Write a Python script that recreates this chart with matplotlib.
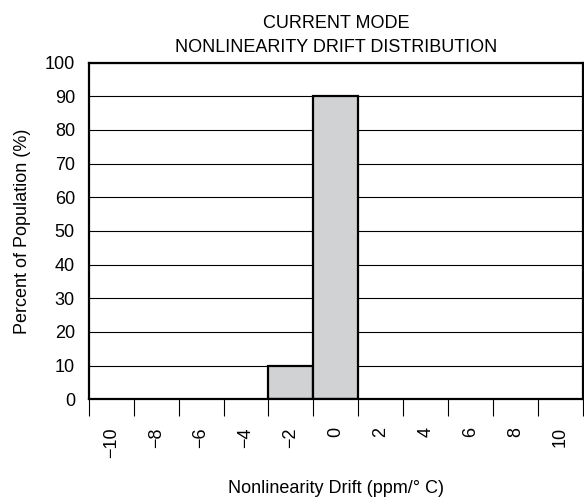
import matplotlib
matplotlib.use('Agg')
import matplotlib.pyplot as plt
import numpy as np

plt.rcParams['font.family'] = ['Liberation Sans', 'DejaVu Sans']

# bin centres (ppm/°C) and percent of population in each bin
drift_bins = [-10, -8, -6, -4, -2, 0, 2, 4, 6, 8, 10]
percent = [0, 0, 0, 0, 10, 90, 0, 0, 0, 0, 0]
bin_width = 2

fig = plt.figure(figsize=(5.84, 5.01), dpi=100)
ax = fig.add_axes([0.152, 0.203, 0.846, 0.672])

centres = np.array(drift_bins)
values = np.array(percent)
mask = values > 0
ax.bar(centres[mask], values[mask], width=bin_width, color='#d1d2d4',
       edgecolor='black', linewidth=1.6, zorder=3)

ax.set_xlim(-11, 11)
ax.set_ylim(0, 100)

ax.set_yticks(np.arange(0, 101, 10))
ax.yaxis.grid(True, color='black', linewidth=0.8, zorder=1)
ax.tick_params(axis='y', length=0, pad=10, labelsize=13)

ax.set_xticks(drift_bins)
ax.set_xticklabels([str(b).replace('-', '\u2212') for b in drift_bins], rotation=90)
ax.set_xticks(np.arange(-11, 12, 2), minor=True)
ax.tick_params(axis='x', which='major', length=0, pad=20, labelsize=13)
ax.tick_params(axis='x', which='minor', length=12.5, width=0.8, direction='out')

for s in ax.spines.values():
    s.set_linewidth(1.6)
    s.set_zorder(4)

ax.set_ylabel('Percent of Population (%)', fontsize=13, labelpad=10)
ax.set_xlabel('Nonlinearity Drift (ppm/\u00b0 C)', fontsize=13, labelpad=16)
ax.set_title('CURRENT MODE\nNONLINEARITY DRIFT DISTRIBUTION', fontsize=13,
             linespacing=1.5, pad=8)

fig.savefig('out.png', dpi=100)
